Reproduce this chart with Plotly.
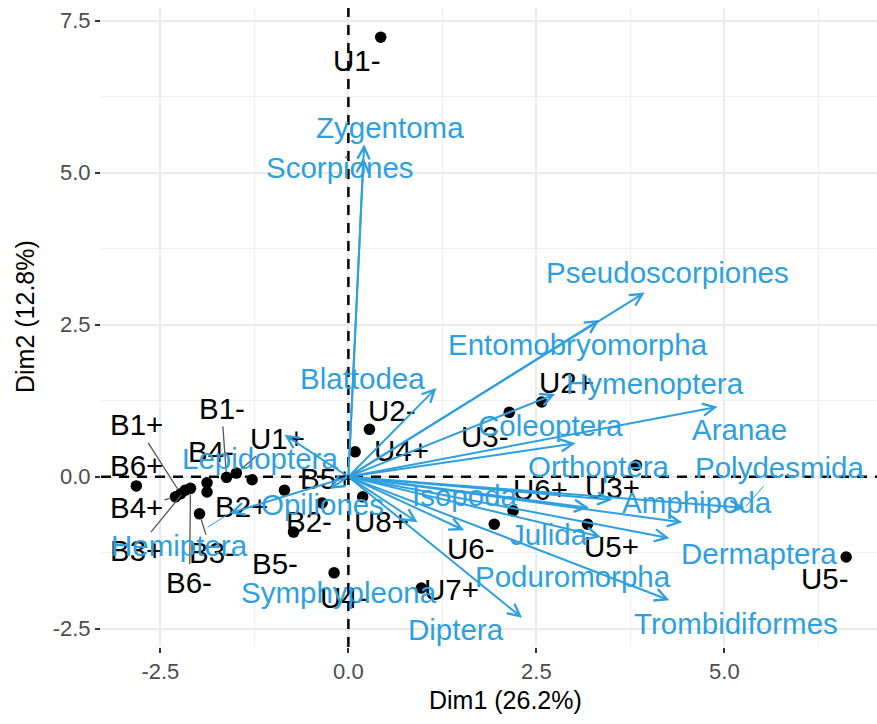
import plotly.graph_objects as go

# ---------------- data ----------------
ind_names = ["U1-", "U2+", "U3-", "U3+", "U6+", "U6-", "U5+", "U5-", "U2-", "U4+",
             "U7+", "U4-", "U8+", "U1+", "B1-", "B4-", "U8-", "B1+", "B4+", "B3+",
             "B6-", "B6+", "B2+", "B3-", "B5+", "B2-", "B5-"]
ind_dim1 = [0.43, 2.57, 2.14, 3.83, 2.19, 1.94, 3.18, 6.62, 0.28, 0.09,
            0.97, -0.19, 0.19, -1.49, -1.62, -1.88, -1.88, -2.23, -2.30, -2.17,
            -2.10, -2.82, -1.28, -1.98, -0.85, -0.35, -0.73]
ind_dim2 = [7.23, 1.23, 1.06, 0.19, -0.56, -0.78, -0.78, -1.32, 0.78, 0.41,
            -1.83, -1.58, -0.33, 0.06, -0.01, -0.10, -0.25, -0.28, -0.33, -0.22,
            -0.19, -0.15, -0.05, -0.61, -0.22, -0.43, -0.91]

var_names = ["Zygentoma", "Scorpiones", "Pseudoscorpiones", "Entomobryomorpha", "Blattodea",
             "Hymenoptera", "Aranae", "Coleoptera", "Orthoptera", "Polydesmida",
             "Amphipoda", "Dermaptera", "Trombidiformes", "Julida", "Poduromorpha",
             "Diptera", "Isopoda", "Symphypleona", "Opiliones", "Hemiptera", "Lepidoptera"]
var_dim1 = [0.21, 0.20, 3.94, 3.34, 1.17, 2.75, 4.91, 3.02, 3.51, 5.27,
            4.44, 4.27, 4.27, 3.20, 3.36, 2.31, 0.92, 1.54, -0.25, -1.58, -0.85]
var_dim2 = [5.47, 5.25, 3.03, 2.58, 1.46, 1.36, 1.15, 0.55, -0.38, -0.51,
            -0.75, -1.01, -2.03, -0.51, -0.99, -2.32, -0.75, -0.88, -0.20, -0.60, 0.69]

x_title = "Dim1 (26.2%)"
y_title = "Dim2 (12.8%)"
tick_vals = [-2.5, 0.0, 2.5, 5.0, 7.5]
tick_text = ["-2.5", "0.0", "2.5", "5.0", "7.5"]

# ---------------- label placement (repel-like pixel offsets) ----------------
ind_offsets = {
    "U1-": (-24, 23), "U2+": (25, -19), "U3-": (-24, 24), "U3+": (-24, 22),
    "U6+": (27, -21), "U6-": (-23, 24), "U5+": (24, 22), "U5-": (-21, 21),
    "U2-": (23, -19), "U4+": (46, -1), "U7+": (30, 1), "U4-": (10, 25),
    "U8+": (19, 25), "U1+": (41, -35), "B1-": (-5, -69), "B4-": (4, -31),
    "B1+": (-44, -69), "B4+": (-39, 11), "B3+": (-49, 60), "B6-": (-1, 94),
    "B6+": (0, -20), "B2+": (-11, 27), "B3-": (12, 39), "B5+": (42, -12),
    "B2-": (-13, 19), "B5-": (-19, 31),
}
ind_segment = {"U1+", "B1-", "B1+", "B4+", "B3+", "B6-", "B3-"}
hidden_labels = {"U8-"}

var_offsets = {
    "Zygentoma": (26, -17), "Scorpiones": (-23, 10), "Pseudoscorpiones": (23, -20),
    "Entomobryomorpha": (-22, 25), "Blattodea": (-74, -10), "Hymenoptera": (100, -11),
    "Aranae": (22, 23), "Coleoptera": (-25, -18), "Orthoptera": (-13, -33),
    "Polydesmida": (35, -40), "Amphipoda": (15, -20), "Dermaptera": (90, 15),
    "Trombidiformes": (67, 23), "Julida": (-40, 27), "Poduromorpha": (-28, 40),
    "Diptera": (-66, 12), "Isopoda": (47, -27), "Symphypleona": (-125, 62),
    "Opiliones": (-7, 16), "Hemiptera": (-50, 32), "Lepidoptera": (-24, 24),
}
var_segment = {"Polydesmida", "Hemiptera"}

BLUE = "#2E9FDF"
FONT = "Liberation Sans, Arial, Helvetica, sans-serif"
LABEL_SIZE = 29.5

fig = go.Figure()

fig.add_trace(go.Scatter(
    x=ind_dim1, y=ind_dim2, mode="markers",
    marker=dict(color="black", size=11.5),
    text=ind_names, hoverinfo="text", showlegend=False,
))

# reference dashed lines
fig.add_hline(y=0, line=dict(color="black", width=2.5, dash="10px,8px"), layer="above")
fig.add_vline(x=0, line=dict(color="black", width=2.5, dash="10px,8px"), layer="above")

# individual labels
for n, x, y in zip(ind_names, ind_dim1, ind_dim2):
    if n in hidden_labels:
        continue
    dx, dy = ind_offsets[n]
    fig.add_annotation(
        x=x, y=y, xref="x", yref="y", text=n, showarrow=True,
        ax=dx, ay=dy, arrowhead=0, arrowwidth=1.3,
        arrowcolor="#555555" if n in ind_segment else "rgba(0,0,0,0)",
        standoff=6, font=dict(family=FONT, size=LABEL_SIZE, color="black"),
    )

# variable arrows
for n, x, y in zip(var_names, var_dim1, var_dim2):
    fig.add_annotation(
        x=x, y=y, xref="x", yref="y", ax=0, ay=0, axref="x", ayref="y",
        text="", showarrow=True, arrowhead=5, arrowsize=1.2, arrowwidth=2,
        arrowcolor=BLUE, standoff=0,
    )

# variable labels
for n, x, y in zip(var_names, var_dim1, var_dim2):
    dx, dy = var_offsets[n]
    fig.add_annotation(
        x=x, y=y, xref="x", yref="y", text=n, showarrow=True,
        ax=dx, ay=dy, arrowhead=0, arrowwidth=1,
        arrowcolor=BLUE if n in var_segment else "rgba(0,0,0,0)",
        standoff=2, font=dict(family=FONT, size=LABEL_SIZE, color=BLUE),
    )

# axis titles (placed like the reference)
fig.add_annotation(
    xref="paper", yref="paper", x=(505 - 101) / 776, y=-(700 - 647) / 639,
    text=x_title, showarrow=False, xanchor="center", yanchor="middle",
    font=dict(family=FONT, size=25, color="black"),
)
fig.add_annotation(
    xref="paper", yref="paper", x=-(101 - 25) / 776, y=(647 - 317) / 639,
    text=y_title, showarrow=False, xanchor="center", yanchor="middle", textangle=-90,
    font=dict(family=FONT, size=25, color="black"),
)

axis_common = dict(
    showgrid=True, gridcolor="#EBEBEB", gridwidth=1.6,
    zeroline=False, showline=False,
    ticks="outside", ticklen=5, tickwidth=2, tickcolor="#333333",
    tickvals=tick_vals, ticktext=tick_text,
    tickfont=dict(family=FONT, size=22, color="#4D4D4D"),
    minor=dict(tickmode="array", tickvals=[-1.25, 1.25, 3.75, 6.25],
               showgrid=True, gridcolor="#F0F0F0", gridwidth=0.9, ticks=""),
)

fig.update_layout(
    width=877, height=724,
    margin=dict(l=101, r=0, t=8, b=77),
    paper_bgcolor="white", plot_bgcolor="white",
    xaxis=dict(range=[-3.29, 7.03], **axis_common),
    yaxis=dict(range=[-2.80, 7.71], **axis_common),
    showlegend=False,
)

fig.write_html("out.html")
